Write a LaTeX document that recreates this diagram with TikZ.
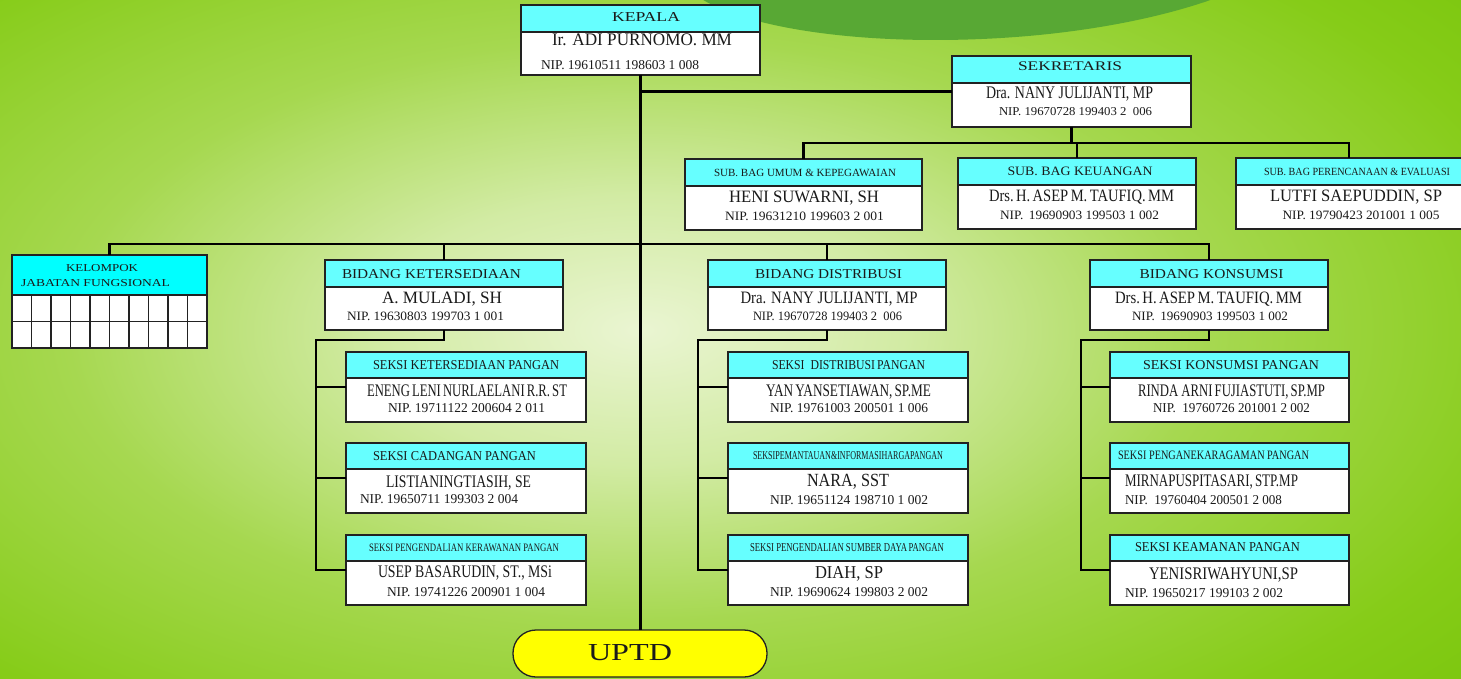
\documentclass[tikz,border=0pt]{standalone}
\usepackage{fontspec}
\setmainfont{Liberation Serif}
\usepackage{graphicx}
\definecolor{bg0}{HTML}{EAF5D2}
\definecolor{bg1}{HTML}{D2EBA4}
\definecolor{bg2}{HTML}{A6D850}
\definecolor{bg3}{HTML}{86CC18}
\definecolor{bg4}{HTML}{6CBE00}
\definecolor{arcg}{HTML}{58A834}
\definecolor{hcyan}{HTML}{66FFFF}
\definecolor{hcyan2}{HTML}{00FFFF}
\definecolor{boxline}{HTML}{222222}
\definecolor{txtc}{HTML}{1A1A1A}
\definecolor{uptdy}{HTML}{FFFF00}
\pgfdeclareradialshading{bgrad}{\pgfpoint{0bp}{0bp}}{color(0bp)=(bg0); color(6bp)=(bg1); color(13bp)=(bg2); color(21bp)=(bg3); color(31bp)=(bg4); color(50bp)=(bg4)}
\tikzset{
  wbox/.style={draw=boxline, fill=white, line width=1.3pt, inner sep=0pt, outer sep=0pt},
  hbox/.style={draw=boxline, fill=hcyan, line width=1.3pt, inner sep=0pt, outer sep=0pt},
  txt/.style={anchor=base west, inner sep=0pt, outer sep=0pt, text=txtc},
  conn/.style={draw=black, line width=2.2pt},
  gridl/.style={draw=boxline, line width=1.1pt},
}
\newcommand\obox[6]{%
  \node[wbox, anchor=north west, minimum width={#5-#2}, minimum height={#6-#3}] (#1) at (#2,#3) {};
  \node[hbox, anchor=north west, minimum width={#5-#2}, minimum height={#4-#3}] (#1h) at (#2,#3) {};}
\newcommand\tx[6]{\node[txt] (#1) at (#2,#3) {\resizebox{#4pt}{#5pt}{#6}};}
\begin{document}
\begin{tikzpicture}[x=1pt, y=-1pt]
\useasboundingbox (0,0) rectangle (1461,679);
\begin{scope}
\clip (0,0) rectangle (1461,679);
\fill[bg4] (0,0) rectangle (1461,679);
\shade[shading=bgrad] (-460,-230) rectangle (1740,890);
\fill[arcg] (700,-2) .. controls (740,24) and (830,40) .. (935,40) .. controls (1050,40) and (1150,22) .. (1216,-2) -- cycle;
\end{scope}

\coordinate (hs) at (1075,143);
\coordinate (hb) at (640,244);
\coordinate (k1) at (316,340);
\coordinate (k2) at (698,340);
\coordinate (k3) at (1081,340);

% boxes
\obox{kepala}{521}{5}{32}{760}{75}
\obox{sek}{952}{56}{83}{1191}{127}
\obox{umum}{685}{159}{186}{922}{230}
\obox{keu}{958}{158}{185}{1196}{229}
\obox{pere}{1236}{158}{185}{1462}{229}
\node[wbox, anchor=north west, minimum width=195, minimum height=93] (kjf) at (12,255) {};
\node[wbox, fill=hcyan2, anchor=north west, minimum width=195, minimum height=40] (kjfh) at (12,255) {};
\foreach \i in {1,...,9} \draw[gridl] ({12+\i*19.5},295) -- ({12+\i*19.5},348);
\draw[gridl] (12,321.5) -- (207,321.5);
\obox{bk}{325}{260}{287}{563}{330}
\obox{bd}{708}{260}{287}{946}{330}
\obox{bkon}{1090}{260}{287}{1328}{330}
\obox{sa}{346}{352}{378}{586}{422}
\obox{sb}{346}{443}{469}{586}{513}
\obox{sc}{346}{535}{561}{586}{605}
\obox{da}{728}{352}{378}{968}{422}
\obox{db}{728}{443}{469}{968}{513}
\obox{dc}{728}{535}{561}{968}{605}
\obox{ka}{1110}{352}{378}{1349}{422}
\obox{kb}{1110}{443}{469}{1349}{513}
\obox{kc}{1110}{535}{561}{1349}{605}
\node[draw=boxline, fill=uptdy, line width=1.3pt, rounded corners=23pt, minimum width=254, minimum height=47, inner sep=0pt, outer sep=0pt, anchor=north west] (uptd) at (513,630) {};

% connectors
\draw[conn] (kepala.south) -- (kepala.south |- uptd.north);
\draw[conn] (sek.west) -- (sek.west -| kepala.south);
\draw[conn] (sek.south) -- (sek.south |- hs);
\draw[conn] (umum.north) |- (hs) -| (pere.north);
\draw[conn] (keu.north) -- (keu.north |- hs);
\draw[conn] (kjf.north) |- (hb) -| (bkon.north);
\draw[conn] (bk.north) -- (bk.north |- hb);
\draw[conn] (bd.north) -- (bd.north |- hb);
\draw[conn] (bk.south) |- (k1) |- (sc.west);
\draw[conn] (sa.west) -- (sa.west -| k1);
\draw[conn] (sb.west) -- (sb.west -| k1);
\draw[conn] (bd.south) |- (k2) |- (dc.west);
\draw[conn] (da.west) -- (da.west -| k2);
\draw[conn] (db.west) -- (db.west -| k2);
\draw[conn] (bkon.south) |- (k3) |- (kc.west);
\draw[conn] (ka.west) -- (ka.west -| k3);
\draw[conn] (kb.west) -- (kb.west -| k3);

% texts
\tx{t1}{612}{21.7}{68}{9}{KEPALA}
\tx{t2}{552}{46}{180}{11.7}{Ir. ADI PURNOMO. MM}
\tx{t3}{541}{70}{158}{9}{NIP. 19610511 198603 1 008}
\tx{t4}{1018}{71}{104}{8.7}{SEKRETARIS}
\tx{t5}{986}{98.3}{167}{11.7}{Dra. NANY JULIJANTI, MP}
\tx{t6}{999}{115.7}{153}{8}{NIP. 19670728 199403 2 \ 006}
\tx{t7}{714}{176.5}{182}{7.3}{SUB. BAG UMUM \& KEPEGAWAIAN}
\tx{t8}{729}{203}{150}{11.5}{HENI SUWARNI, SH}
\tx{t9}{725}{221}{159}{8.5}{NIP. 19631210 199603 2 001}
\tx{t10}{1007.5}{176}{145}{8.5}{SUB. BAG KEUANGAN}
\tx{t11}{989}{202}{185}{11.5}{Drs.\,H.\,ASEP\,M.\,TAUFIQ.\,MM}
\tx{t12}{1000}{220}{159}{8.5}{NIP. \,19690903 199503 1 002}
\tx{t13}{1264}{175.5}{186}{7.3}{SUB. BAG PERENCANAAN \& EVALUASI}
\tx{t14}{1270}{202}{172}{11.5}{LUTFI SAEPUDDIN, SP}
\tx{t15}{1282.5}{219}{157}{8.5}{NIP. 19790423 201001 1 005}
\tx{t16}{66}{271}{72}{7}{KELOMPOK}
\tx{t17}{21}{286}{149}{7}{JABATAN FUNGSIONAL}
\tx{t18}{342}{278}{179}{9}{BIDANG KETERSEDIAAN}
\tx{t19}{382}{303}{120}{11.5}{A. MULADI, SH}
\tx{t20}{347}{320}{157}{8.5}{NIP. 19630803 199703 1 001}
\tx{t21}{755}{278}{147}{9}{BIDANG DISTRIBUSI}
\tx{t22}{740.5}{303}{177}{11.5}{Dra. NANY JULIJANTI, MP}
\tx{t23}{753}{320}{149}{8.5}{NIP. 19670728 199403 2 \ 006}
\tx{t24}{1139.5}{278}{144}{9}{BIDANG KONSUMSI}
\tx{t25}{1115}{303}{187}{11.5}{Drs.\,H.\,ASEP\,M.\,TAUFIQ.\,MM}
\tx{t26}{1132}{320}{156}{8.5}{NIP. \,19690903 199503 1 002}
\tx{t27}{373}{369}{186}{9}{SEKSI KETERSEDIAAN PANGAN}
\tx{t28}{367}{396}{200}{11.7}{ENENG\,LENI\,NURLAELANI\,R.R.\,ST}
\tx{t29}{388}{412}{157}{9}{NIP. 19711122 200604 2 011}
\tx{t30}{373}{460}{163}{9}{SEKSI CADANGAN PANGAN}
\tx{t31}{386}{487}{145}{11.7}{LISTIANINGTIASIH, SE}
\tx{t32}{360}{503}{158}{9}{NIP. 19650711 199303 2 004}
\tx{t33}{369}{551}{190}{7.5}{SEKSI PENGENDALIAN KERAWANAN PANGAN}
\tx{t34}{378}{577}{174}{11.7}{USEP BASARUDIN, ST., MSi}
\tx{t35}{387}{596}{158}{9}{NIP. 19741226 200901 1 004}
\tx{t36}{772}{369}{153}{9}{SEKSI \ DISTRIBUSI\,PANGAN}
\tx{t37}{766}{396}{165}{11.7}{YAN\,YANSETIAWAN,\,SP.ME}
\tx{t38}{770}{412}{158}{9}{NIP. 19761003 200501 1 006}
\tx{t39}{753}{459}{190}{8}{SEKSIPEMANTAUAN\&INFORMASIHARGAPANGAN}
\tx{t40}{807}{486}{82}{12.3}{NARA, SST}
\tx{t41}{770}{504}{158}{9}{NIP. 19651124 198710 1 002}
\tx{t42}{750}{551}{194}{8}{SEKSI PENGENDALIAN SUMBER DAYA\,PANGAN}
\tx{t43}{815}{578}{68}{12}{DIAH, SP}
\tx{t44}{770}{596}{158}{9}{NIP. 19690624 199803 2 002}
\tx{t45}{1143}{369}{176}{9}{SEKSI KONSUMSI PANGAN}
\tx{t46}{1138}{396}{187}{11.7}{RINDA ARNI\,FUJIASTUTI,\,SP.MP}
\tx{t47}{1153}{412}{157}{9}{NIP. \ 19760726 201001 2 002}
\tx{t48}{1118}{459}{191}{8.5}{SEKSI PENGANEKARAGAMAN PANGAN}
\tx{t49}{1125}{486}{173}{11.7}{MIRNAPUSPITASARI,\,STP.MP}
\tx{t50}{1125}{504}{157}{9}{NIP. \ 19760404 200501 2 008}
\tx{t51}{1135}{551}{165}{9}{SEKSI KEAMANAN PANGAN}
\tx{t52}{1149}{579}{149}{11.7}{YENISRIWAHYUNI,SP}
\tx{t53}{1125}{597}{158}{9}{NIP. 19650217 199103 2 002}
\tx{t54}{588}{660}{84}{16}{UPTD}
\end{tikzpicture}
\end{document}
